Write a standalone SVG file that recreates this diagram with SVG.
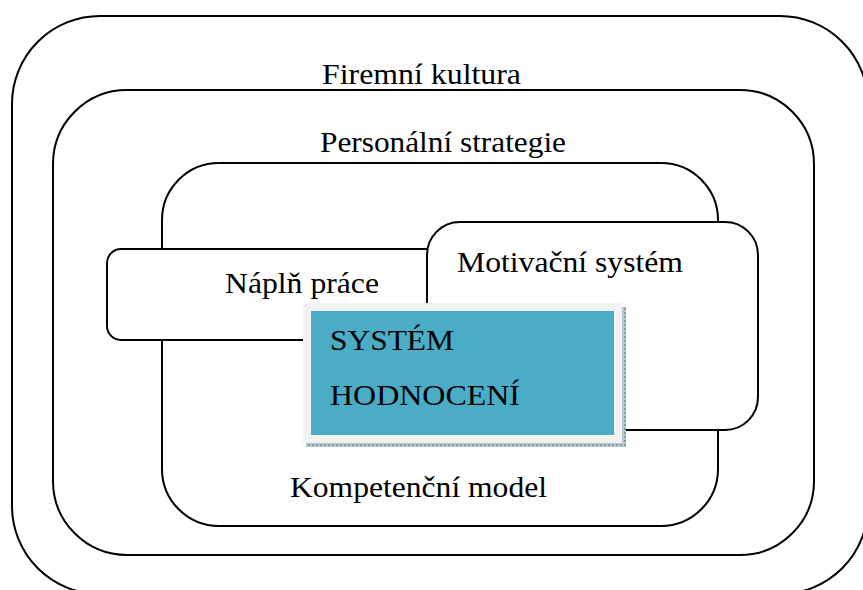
<svg xmlns="http://www.w3.org/2000/svg" width="863" height="590" viewBox="0 0 863 590">
  <style>
    .frame { fill: #ffffff; stroke: #000000; stroke-width: 2; }
    .label { font-family: 'Liberation Serif', 'Times New Roman', serif; font-size: 30px; fill: #000000; }
  </style>
  <defs>
    <!-- dotted hatch used for the drop shadow of the central box -->
    <pattern id="hatch" width="4" height="4" patternUnits="userSpaceOnUse">
      <rect width="4" height="4" fill="#b7c8cf"/>
      <rect width="2" height="2" fill="#7f99a5"/>
    </pattern>
  </defs>

  <rect width="863" height="590" fill="#ffffff"/>

  <!-- outer layer: company culture -->
  <g id="firemni-kultura">
    <rect class="frame" x="12" y="16" width="856" height="578" rx="88" ry="88"/>
    <text class="label" x="322" y="84" textLength="199" lengthAdjust="spacingAndGlyphs">Firemní kultura</text>
  </g>

  <!-- HR strategy layer -->
  <g id="personalni-strategie">
    <rect class="frame" x="53" y="90" width="761" height="465" rx="74" ry="74"/>
    <text class="label" x="320" y="152" textLength="246" lengthAdjust="spacingAndGlyphs">Personální strategie</text>
  </g>

  <!-- competency model layer -->
  <g id="kompetencni-model">
    <rect class="frame" x="162" y="163" width="556" height="363" rx="57" ry="57"/>
    <text class="label" x="290" y="497" textLength="257" lengthAdjust="spacingAndGlyphs">Kompetenční model</text>
  </g>

  <!-- job description -->
  <g id="napln-prace">
    <rect class="frame" x="107" y="249" width="340" height="91" rx="14" ry="14"/>
    <text class="label" x="225" y="293" textLength="154" lengthAdjust="spacingAndGlyphs">Náplň práce</text>
  </g>

  <!-- motivation system -->
  <g id="motivacni-system">
    <rect class="frame" x="427" y="222" width="331" height="208" rx="33" ry="33"/>
    <text class="label" x="457" y="272" textLength="226" lengthAdjust="spacingAndGlyphs">Motivační systém</text>
  </g>

  <!-- central element: appraisal system -->
  <g id="system-hodnoceni">
    <rect x="622" y="307" width="4" height="140" fill="url(#hatch)"/>
    <rect x="306" y="443" width="320" height="4" fill="url(#hatch)"/>
    <rect x="303" y="303" width="319" height="140" fill="#f2f2f2"/>
    <rect x="311" y="311" width="303" height="124" fill="#4bacc6"/>
    <text class="label" x="330" y="350" textLength="124" lengthAdjust="spacingAndGlyphs">SYSTÉM</text>
    <text class="label" x="330" y="405" textLength="190" lengthAdjust="spacingAndGlyphs">HODNOCENÍ</text>
  </g>

  <g id="connectors"/>
</svg>
